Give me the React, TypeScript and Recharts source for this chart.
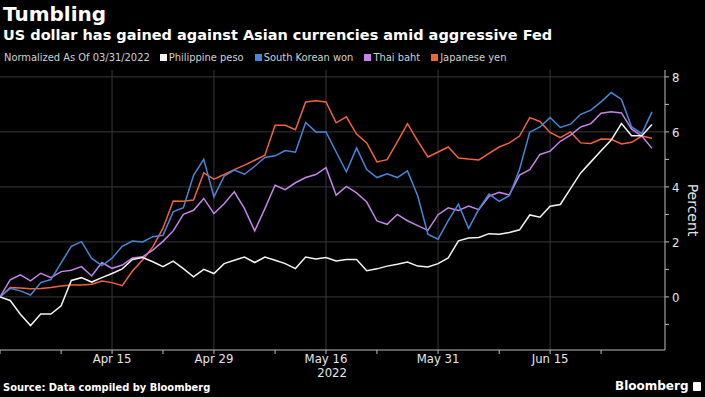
import React from 'react';
import { LineChart, Line, XAxis, YAxis, ReferenceLine } from 'recharts';

// business days, normalized as of 03/31/2022
const dates = [
  '2022-03-31', '2022-04-01', '2022-04-04', '2022-04-05', '2022-04-06', '2022-04-07', '2022-04-08',
  '2022-04-11', '2022-04-12', '2022-04-13', '2022-04-14', '2022-04-15',
  '2022-04-18', '2022-04-19', '2022-04-20', '2022-04-21', '2022-04-22',
  '2022-04-25', '2022-04-26', '2022-04-27', '2022-04-28', '2022-04-29',
  '2022-05-02', '2022-05-03', '2022-05-04', '2022-05-05', '2022-05-06',
  '2022-05-09', '2022-05-10', '2022-05-11', '2022-05-12', '2022-05-13',
  '2022-05-16', '2022-05-17', '2022-05-18', '2022-05-19', '2022-05-20',
  '2022-05-23', '2022-05-24', '2022-05-25', '2022-05-26', '2022-05-27',
  '2022-05-30', '2022-05-31', '2022-06-01', '2022-06-02', '2022-06-03',
  '2022-06-06', '2022-06-07', '2022-06-08', '2022-06-09', '2022-06-10',
  '2022-06-13', '2022-06-14', '2022-06-15', '2022-06-16', '2022-06-17',
  '2022-06-20', '2022-06-21', '2022-06-22', '2022-06-23', '2022-06-24',
  '2022-06-27', '2022-06-28', '2022-06-29',
];

const pesoValues = [
  0, -0.13, -0.63, -1.04, -0.62, -0.62, -0.32, 0.6, 0.7, 0.54, 0.7, 0.85,
  1.02, 1.36, 1.43, 1.28, 1.1, 1.3, 1.03, 0.73, 1.0, 0.85,
  1.21, 1.33, 1.45, 1.25, 1.45, 1.33, 1.21, 1.03, 1.45, 1.38,
  1.43, 1.31, 1.36, 1.36, 0.95, 1.02, 1.12, 1.19, 1.27, 1.12,
  1.09, 1.21, 1.42, 2.04, 2.14, 2.16, 2.3, 2.28, 2.34, 2.44,
  2.98, 2.9, 3.3, 3.36, 3.94, 4.51, 4.91, 5.31, 5.7, 6.3,
  5.86, 5.86, 6.27,
];

const wonValues = [
  0, 0.31, 0.22, 0.07, 0.52, 0.63, 1.24, 1.84, 2.01, 1.4, 1.14, 1.41,
  1.84, 2.03, 2.0, 2.19, 2.24, 3.09, 3.24, 4.42, 5.0, 3.64,
  4.39, 4.61, 4.46, 4.75, 5.07, 5.13, 5.32, 5.26, 6.34, 6.0,
  6.0, 5.27, 4.55, 5.42, 4.63, 4.34, 4.48, 4.34, 4.58, 3.68,
  2.28, 2.1, 2.77, 3.37, 2.49, 3.19, 3.74, 3.47, 3.68, 4.64,
  5.99, 6.18, 6.52, 6.16, 6.28, 6.64, 6.79, 7.09, 7.43, 7.18,
  6.18, 5.94, 6.73,
];

const bahtValues = [
  0, 0.62, 0.8, 0.58, 0.86, 0.7, 0.92, 0.97, 1.1, 0.76, 1.25, 1.04,
  1.16, 1.42, 1.46, 1.7, 2.02, 2.4, 3.0, 3.15, 3.58, 3.03,
  3.39, 3.82, 3.21, 2.4, 3.21, 4.06, 3.9, 4.15, 4.34, 4.45,
  4.7, 3.7, 4.02, 3.78, 3.45, 2.76, 2.64, 3.0, 2.77, 2.59,
  2.42, 2.99, 3.24, 3.14, 3.3, 3.17, 3.66, 3.8, 3.71, 4.43,
  4.63, 5.18, 5.3, 5.66, 5.88, 6.18, 6.3, 6.68, 6.73, 6.69,
  6.1, 5.85, 5.4,
];

const yenValues = [
  0, 0.34, 0.32, 0.3, 0.31, 0.34, 0.4, 0.43, 0.43, 0.46, 0.58, 0.52,
  0.41, 0.94, 1.34, 1.82, 2.5, 3.49, 3.48, 3.52, 4.51, 4.28,
  4.45, 4.63, 4.79, 4.97, 5.15, 6.24, 6.24, 6.08, 7.09, 7.13,
  7.09, 6.33, 6.55, 5.92, 5.6, 4.91, 4.99, 5.64, 6.3, 5.67,
  5.09, 5.27, 5.45, 5.05, 5.01, 4.98, 5.22, 5.45, 5.6, 5.85,
  6.52, 6.38, 5.98, 5.79, 6.0, 5.6, 5.58, 5.74, 5.73, 5.56,
  5.62, 5.85, 5.77,
];

const majorTicks = ['2022-04-15', '2022-04-29', '2022-05-16', '2022-05-31', '2022-06-15'];
const majorLabels = ['Apr 15', 'Apr 29', 'May 16', 'May 31', 'Jun 15'];
const minorTicks = ['2022-03-31', '2022-04-08', '2022-04-22', '2022-05-09', '2022-05-23', '2022-06-08', '2022-06-22'];
const yTicks = [-1, 0, 1, 2, 3, 4, 5, 6, 7, 8];
const yGridLines = [0, 2, 4, 6, 8];

const SERIES = [
  { key: 'peso', name: 'Philippine peso', color: '#f4f4f4' },
  { key: 'won', name: 'South Korean won', color: '#4a86d8' },
  { key: 'baht', name: 'Thai baht', color: '#c484e8' },
  { key: 'yen', name: 'Japanese yen', color: '#f0643a' },
];

const data = dates.map((date, i) => ({
  date,
  peso: pesoValues[i],
  won: wonValues[i],
  baht: bahtValues[i],
  yen: yenValues[i],
}));

const COND = '"DejaVu Sans Condensed", "DejaVu Sans", sans-serif';
const BOLD = '"DejaVu Sans", sans-serif';
const AXIS = '#bdbdbd';
const GRID = '#383838';

const XTick = ({ x, y, payload }: any) => {
  const idx = majorTicks.indexOf(payload.value);
  if (idx < 0) return null;
  return (
    <g>
      <text x={x} y={y} dy={9} textAnchor="middle" fill="#e6e6e6" fontSize={13} fontFamily={COND}>
        {majorLabels[idx]}
      </text>
      {payload.value === '2022-05-16' && (
        <text x={x + 21} y={y} dy={23} textAnchor="end" fill="#e6e6e6" fontSize={13} fontFamily={COND}>
          2022
        </text>
      )}
    </g>
  );
};

const YTick = ({ x, y, payload }: any) => {
  if (payload.value % 2 !== 0) return null;
  return (
    <text x={x} y={y} dy={5} textAnchor="start" fill="#e6e6e6" fontSize={13} fontFamily={COND}>
      {payload.value}
    </text>
  );
};

const PercentLabel = ({ viewBox }: any) => {
  const cx = viewBox.x + 28;
  const cy = viewBox.y + viewBox.height / 2;
  return (
    <text x={cx} y={cy} transform={`rotate(90 ${cx} ${cy})`} textAnchor="middle" dy={5}
      fill="#e6e6e6" fontSize={14} fontFamily={'"DejaVu Sans", sans-serif'}>
      Percent
    </text>
  );
};

export default function App() {
  return (
    <div style={{ position: 'absolute', left: 0, top: 0, width: 705, height: 397, background: '#000', overflow: 'hidden' }}>
      <div style={{ position: 'absolute', left: 3, top: 2, color: '#fff', fontFamily: BOLD, fontWeight: 700, fontSize: 20 }}>
        Tumbling
      </div>
      <div style={{ position: 'absolute', left: 3, top: 27, color: '#fff', fontFamily: BOLD, fontWeight: 700, fontSize: 14.5 }}>
        US dollar has gained against Asian currencies amid aggressive Fed
      </div>
      <div style={{ position: 'absolute', left: 4, top: 51, display: 'flex', alignItems: 'center', color: '#d0d0d0', fontFamily: COND, fontSize: 11 }}>
        <span style={{ marginRight: 10 }}>Normalized As Of 03/31/2022</span>
        {SERIES.map((s) => (
          <span key={s.key} style={{ display: 'flex', alignItems: 'center', marginRight: 11 }}>
            <span style={{ width: 7, height: 7, background: s.color, marginRight: 2 }} />
            {s.name}
          </span>
        ))}
      </div>

      <LineChart width={705} height={397} data={data} margin={{ top: 70, right: 0, bottom: 17, left: 0 }}>
        {yGridLines.map((v) => (
          <ReferenceLine key={`y${v}`} y={v} stroke={GRID} />
        ))}
        {majorTicks.map((d) => (
          <ReferenceLine key={d} x={d} stroke={GRID} />
        ))}
        <XAxis
          dataKey="date"
          ticks={[...minorTicks, ...majorTicks]}
          interval={0}
          tick={<XTick />}
          tickSize={4}
          tickMargin={0}
          tickLine={{ stroke: AXIS }}
          axisLine={{ stroke: AXIS }}
          padding={{ left: 0, right: 13 }}
          height={30}
        />
        <YAxis
          orientation="right"
          type="number"
          domain={[-1.93, 8.25]}
          allowDataOverflow
          ticks={yTicks}
          interval={0}
          tick={<YTick />}
          tickSize={4}
          tickMargin={3}
          tickLine={{ stroke: AXIS }}
          axisLine={{ stroke: AXIS }}
          width={40}
          label={<PercentLabel />}
        />
        {[...SERIES].reverse().map((s) => (
          <Line
            key={s.key}
            type="linear"
            dataKey={s.key}
            name={s.name}
            stroke={s.color}
            strokeWidth={1.5}
            dot={false}
            isAnimationActive={false}
          />
        ))}
      </LineChart>

      <div style={{ position: 'absolute', left: 3, top: 381, color: '#fff', fontFamily: COND, fontWeight: 700, fontSize: 11 }}>
        Source: Data compiled by Bloomberg
      </div>
      <div style={{ position: 'absolute', left: 615, top: 379, display: 'flex', alignItems: 'center', color: '#fff', fontFamily: BOLD, fontWeight: 700, fontSize: 12 }}>
        Bloomberg
        <span style={{ width: 8, height: 9, background: '#fff', borderRadius: 1, marginLeft: 4 }} />
      </div>
    </div>
  );
}
